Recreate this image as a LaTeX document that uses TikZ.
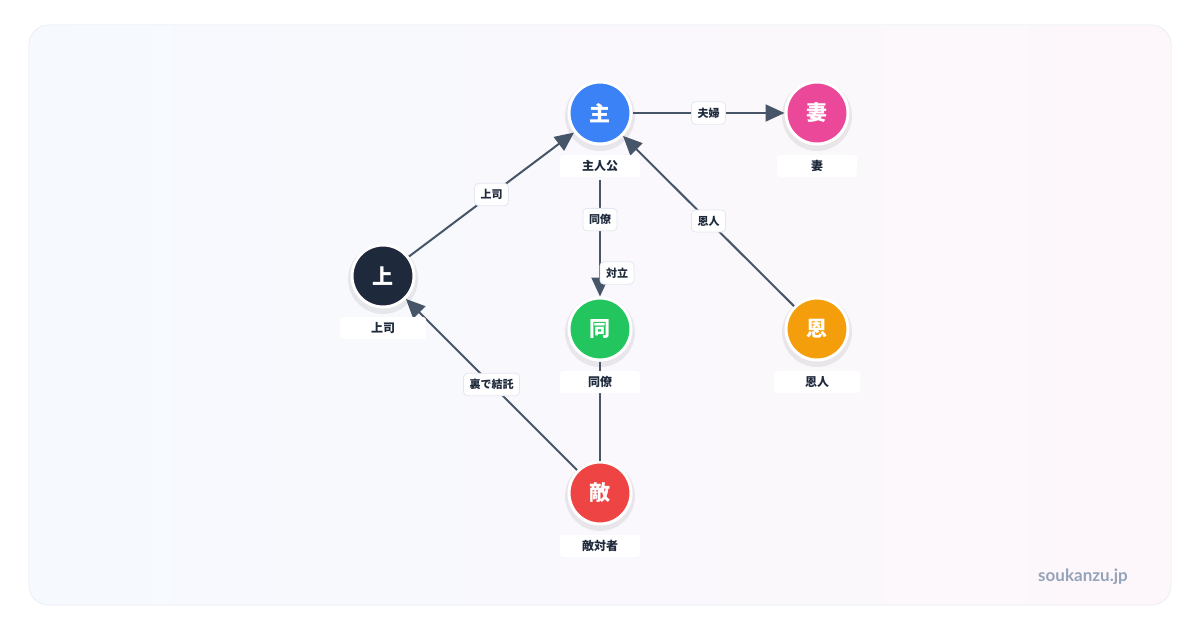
\documentclass[tikz,border=0pt]{standalone}
\usepackage{fontspec}
\setmainfont{Noto Sans CJK JP}
\newfontfamily\wm{Lato}
\usetikzlibrary{arrows.meta}
\definecolor{edge}{HTML}{475569}
\definecolor{txt}{HTML}{1E293B}
\definecolor{bord}{HTML}{E2E8F0}
\begin{document}
\begin{tikzpicture}[x=1pt,y=-1pt,
  pers/.style={circle,draw=white,line width=3pt,minimum size=62pt,inner sep=0pt,text=white,font=\bfseries\fontsize{21}{21}\selectfont},
  nlab/.style={fill=white,rounded corners=3pt,text=txt,font=\bfseries\fontsize{12}{12}\selectfont,minimum width=80pt,minimum height=22pt,inner sep=2pt},
  elab/.style={fill=white,draw=bord,line width=0.8pt,rounded corners=4pt,text=txt,font=\bfseries\fontsize{11}{11}\selectfont,inner sep=6pt},
  con/.style={draw=edge,line width=2pt},
  arr/.style={con,-{Triangle[length=19pt,width=17pt]}}]
\useasboundingbox (0,0) rectangle (1200,630);
\fill[white] (0,0) rectangle (1200,630);
\shade[left color={rgb,255:red,239;green,246;blue,255},right color={rgb,255:red,253;green,242;blue,248},rounded corners=20pt,draw=bord,line width=0.8pt] (29,25) rectangle (1171,605);
\fill[white,opacity=0.45,rounded corners=20pt] (29,25) rectangle (1171,605);
\foreach \p in {(600,116),(817,116),(383,279),(600,332),(817,332),(600,496)} {\fill[black,opacity=0.07] \p circle (35);}
\node[pers,fill={rgb,255:red,59;green,130;blue,246}] (hero) at (600,113) {主};
\node[pers,fill={rgb,255:red,236;green,72;blue,153}] (wife) at (817,113) {妻};
\node[pers,fill={rgb,255:red,30;green,41;blue,59}] (boss) at (383,276) {上};
\node[pers,fill={rgb,255:red,34;green,197;blue,94}] (coll) at (600,329) {同};
\node[pers,fill={rgb,255:red,245;green,158;blue,11}] (ben) at (817,329) {恩};
\node[pers,fill={rgb,255:red,239;green,68;blue,68}] (enemy) at (600,493) {敵};
\coordinate (a1) at (600,180);
\draw[con] (enemy) -- (coll);
\draw[arr] (hero) -- (wife) node[elab,midway] {夫婦};
\draw[arr] (boss) -- (hero) node[elab,pos=0.5] {上司};
\draw[arr] (ben) -- (hero) node[elab,pos=0.5] {恩人};
\draw[arr] (enemy) -- (boss) node[elab,pos=0.5] {裏で結託};
\draw[arr] (a1) -- (coll) node[elab,pos=0.34] {同僚};
\node[elab] (ltai) at (617,273) {対立};
\node[nlab] (lhero) at (600,166) {主人公};
\node[nlab] (lwife) at (817,166) {妻};
\node[nlab,minimum width=86pt] (lboss) at (383,328) {上司};
\node[nlab] (lcoll) at (600,382) {同僚};
\node[nlab,minimum width=86pt] (lben) at (817,382) {恩人};
\node[nlab] (lenemy) at (600,546) {敵対者};
\node[font=\wm\bfseries\fontsize{17}{17}\selectfont,text={rgb,255:red,148;green,163;blue,184}] (wmk) at (1083,577) {soukanzu.jp};
\end{tikzpicture}
\end{document}
